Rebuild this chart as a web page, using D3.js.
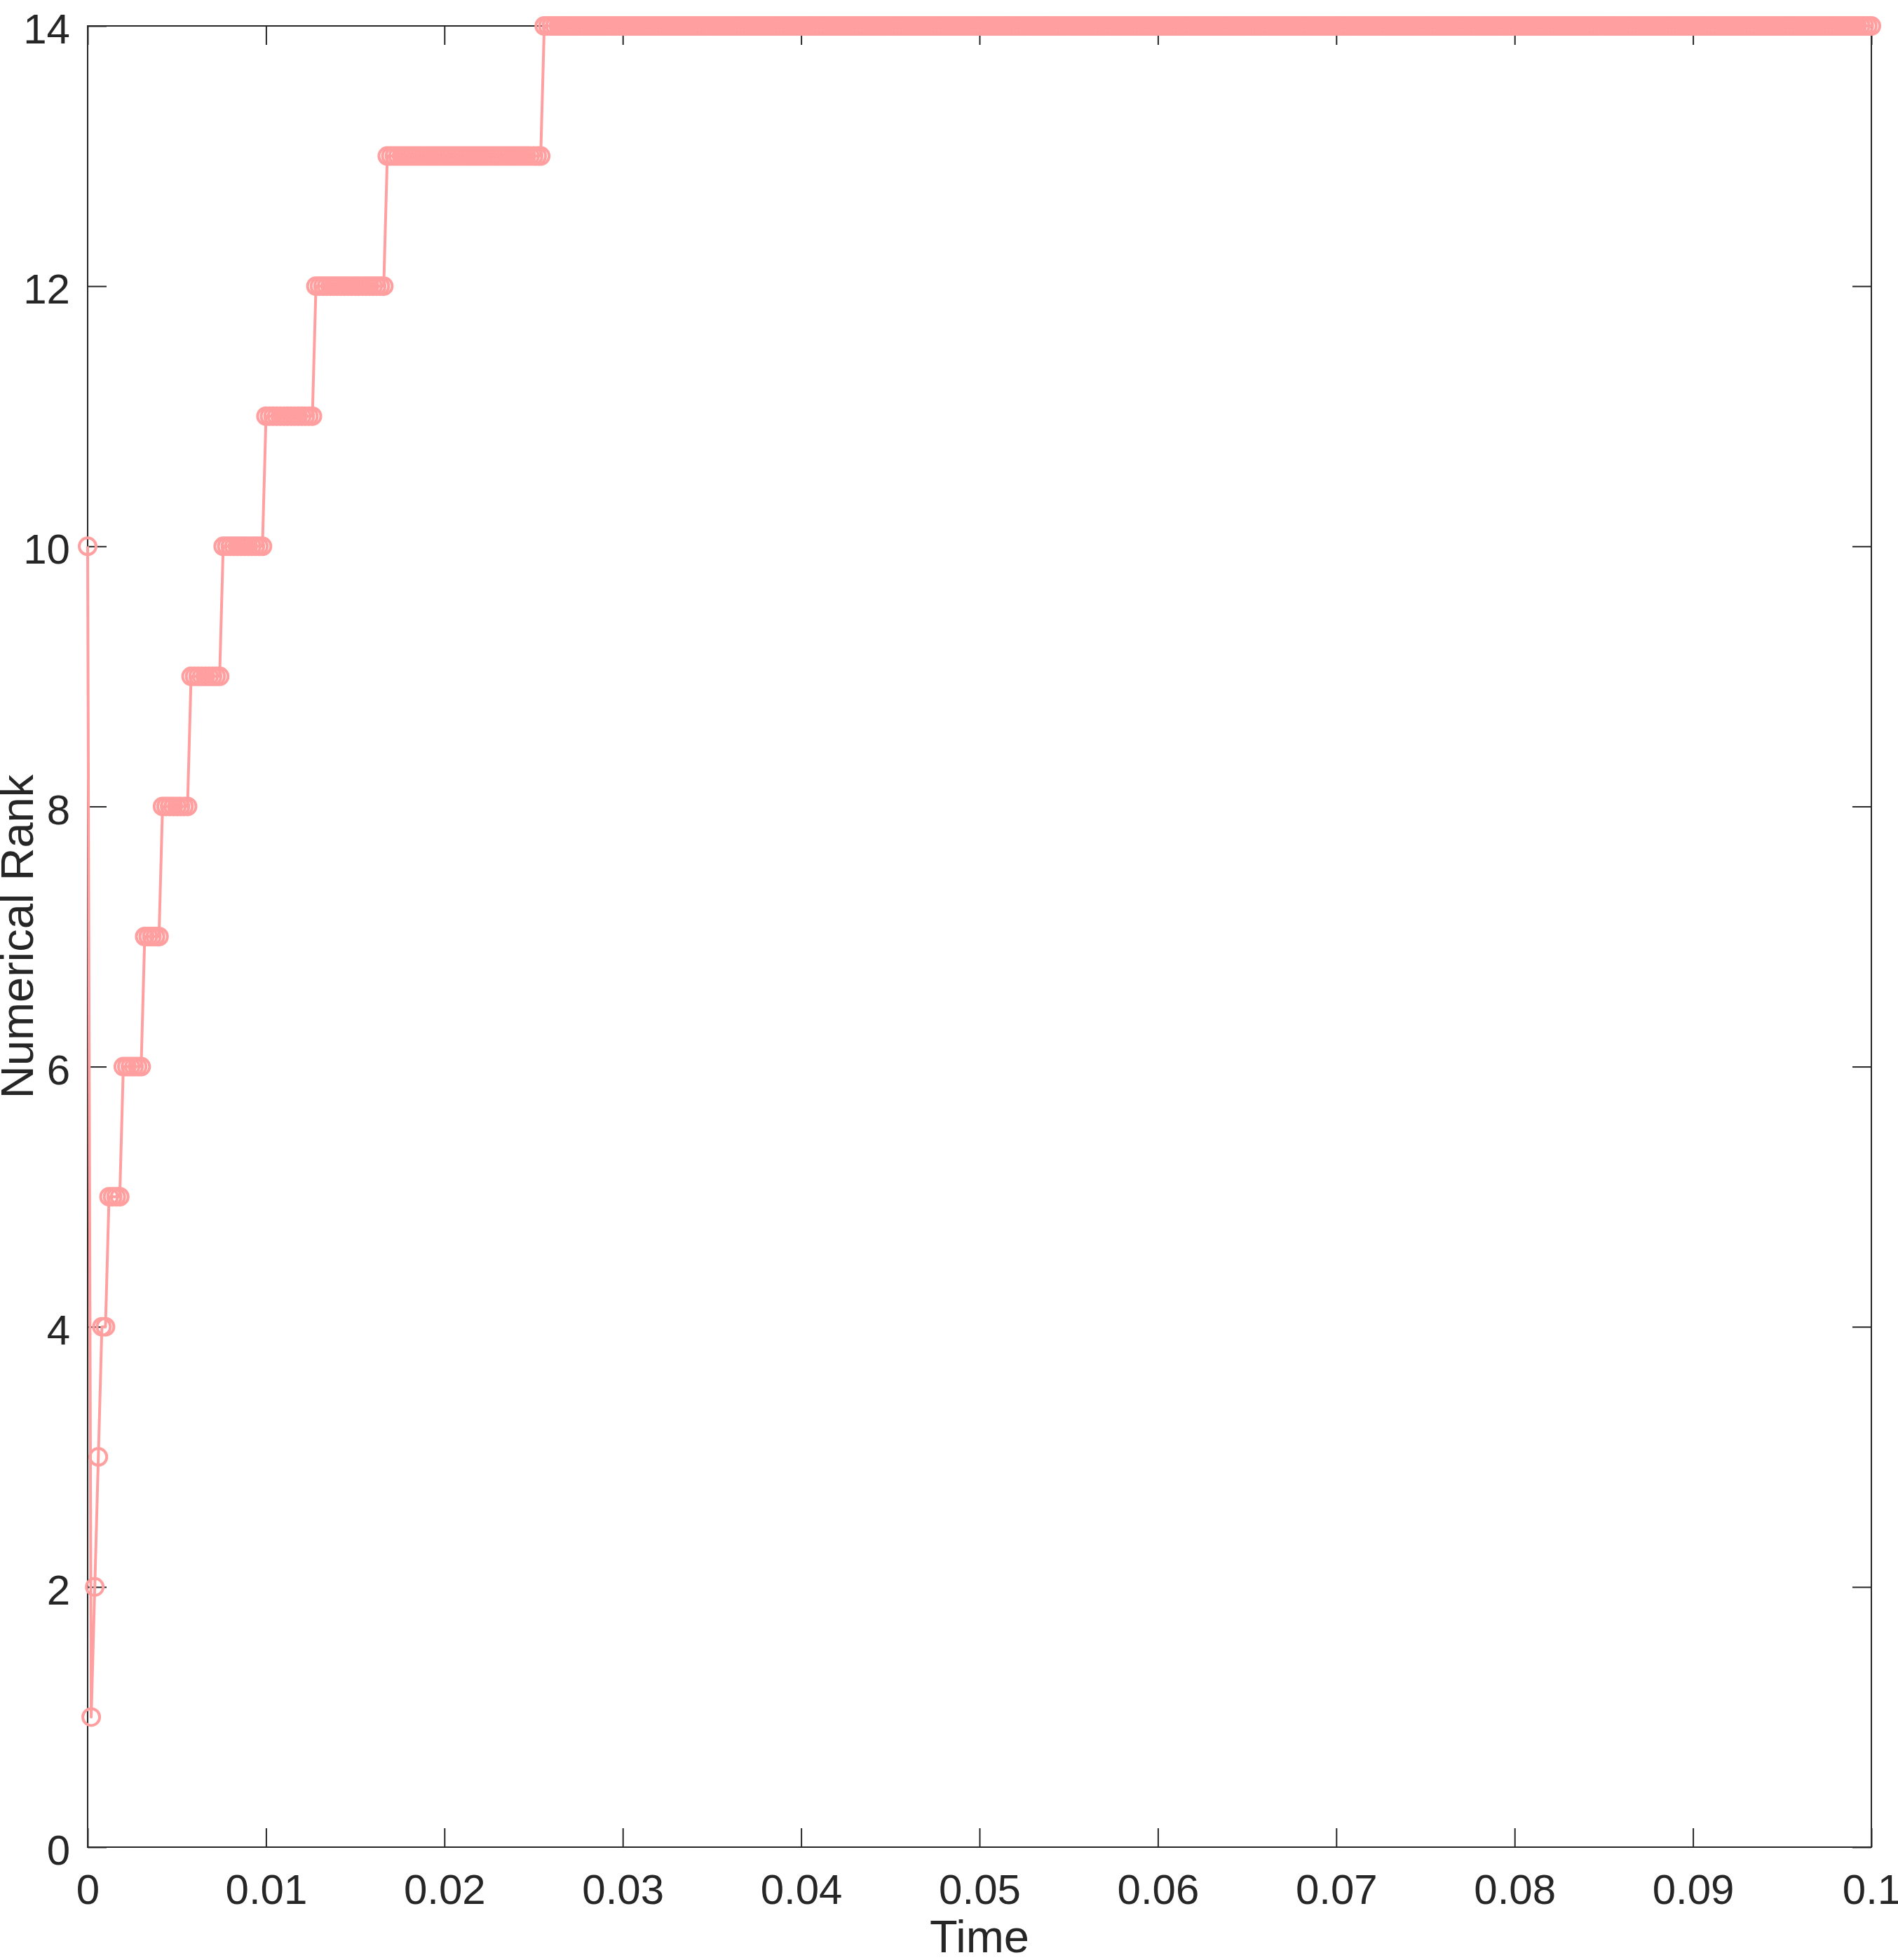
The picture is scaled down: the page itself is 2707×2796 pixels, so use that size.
<!DOCTYPE html>
<html>
<head>
<meta charset="utf-8">
<script src="https://cdn.jsdelivr.net/npm/d3@7"></script>
<style>
  html, body { margin: 0; padding: 0; background: #ffffff; }
  svg { display: block; }
  text { font-family: "Liberation Sans", Arial, Helvetica, sans-serif; fill: #262626; }
</style>
</head>
<body>
<svg id="chart" width="2707" height="2796"></svg>
<script>
// ---- data ----
// solver time step (uniform grid of sample times)
const timeStep = 0.0002;
// successive rank levels of the numerical rank
const rankLevels = [10, 1, 2, 3, 4, 5, 6, 7, 8, 9, 10, 11, 12, 13, 14];
// first and last sample time spent at each level
const levelStart = [0, 0.0002, 0.0004, 0.0006, 0.0008, 0.0012, 0.0020, 0.0032, 0.0042, 0.0058, 0.0076, 0.0100, 0.0128, 0.0168, 0.0256];
const levelEnd   = [0, 0.0002, 0.0004, 0.0006, 0.0010, 0.0018, 0.0030, 0.0040, 0.0056, 0.0074, 0.0098, 0.0126, 0.0166, 0.0254, 0.1000];
// tick labels
const xTicks = [0, 0.01, 0.02, 0.03, 0.04, 0.05, 0.06, 0.07, 0.08, 0.09, 0.1];
const xTickLabels = ["0", "0.01", "0.02", "0.03", "0.04", "0.05", "0.06", "0.07", "0.08", "0.09", "0.1"];
const yTicks = [0, 2, 4, 6, 8, 10, 12, 14];
const yTickLabels = ["0", "2", "4", "6", "8", "10", "12", "14"];
const xLabel = "Time";
const yLabel = "Numerical Rank";

// sample points: each level holds the rank at every grid time from its start to its end
const points = [];
rankLevels.forEach((r, i) => {
  const n0 = Math.round(levelStart[i] / timeStep);
  const n1 = Math.round(levelEnd[i] / timeStep);
  for (let n = n0; n <= n1; n++) points.push({ t: n * timeStep, rank: r });
});

// ---- layout ----
const L = 125, R = 2669, T = 37, B = 2635;
const svg = d3.select("#chart");
const x = d3.scaleLinear().domain([0, 0.1]).range([L, R]);
const y = d3.scaleLinear().domain([0, 14]).range([B, T]);

const axisColor = "#262626";
const tickLen = 27;
const tickFont = 60;

function styleAxis(g) {
  g.select(".domain").remove();
  g.selectAll(".tick line").attr("stroke", axisColor).attr("stroke-width", 2);
  g.selectAll(".tick text").attr("font-size", tickFont).attr("fill", axisColor)
    .style("font-family", '"Liberation Sans", Arial, Helvetica, sans-serif');
}

// bottom axis
svg.append("g").attr("transform", `translate(0,${B})`)
  .call(d3.axisBottom(x).tickValues(xTicks).tickFormat((d, i) => xTickLabels[i])
    .tickSizeInner(-tickLen).tickSizeOuter(0).tickPadding(38))
  .call(styleAxis);
// top axis (ticks only)
svg.append("g").attr("transform", `translate(0,${T})`)
  .call(d3.axisTop(x).tickValues(xTicks).tickFormat("").tickSizeInner(-tickLen).tickSizeOuter(0))
  .call(styleAxis);
// left axis
svg.append("g").attr("transform", `translate(${L},0)`)
  .call(d3.axisLeft(y).tickValues(yTicks).tickFormat((d, i) => yTickLabels[i])
    .tickSizeInner(-tickLen).tickSizeOuter(0).tickPadding(25))
  .call(styleAxis)
  .selectAll(".tick text").attr("dy", "0.41em");
// right axis (ticks only)
svg.append("g").attr("transform", `translate(${R},0)`)
  .call(d3.axisRight(y).tickValues(yTicks).tickFormat("").tickSizeInner(-tickLen).tickSizeOuter(0))
  .call(styleAxis);

// box
svg.append("rect").attr("x", L).attr("y", T).attr("width", R - L).attr("height", B - T)
  .attr("fill", "none").attr("stroke", axisColor).attr("stroke-width", 2);

// axis labels
svg.append("text").attr("x", (L + R) / 2).attr("y", 2785)
  .attr("text-anchor", "middle").attr("font-size", 65).text(xLabel);
svg.append("text").attr("transform", `translate(47,${(T + B) / 2}) rotate(-90)`)
  .attr("text-anchor", "middle").attr("font-size", 65).text(yLabel);

// series
const color = "#ff9f9f";
const line = d3.line().x(d => x(d.t)).y(d => y(d.rank));
svg.append("path").datum(points).attr("d", line)
  .attr("fill", "none").attr("stroke", color).attr("stroke-width", 4).attr("stroke-linejoin", "round");
svg.append("g").selectAll("circle").data(points).join("circle")
  .attr("cx", d => x(d.t)).attr("cy", d => y(d.rank)).attr("r", 12)
  .attr("fill", "none").attr("stroke", color).attr("stroke-width", 4);
</script>
</body>
</html>
